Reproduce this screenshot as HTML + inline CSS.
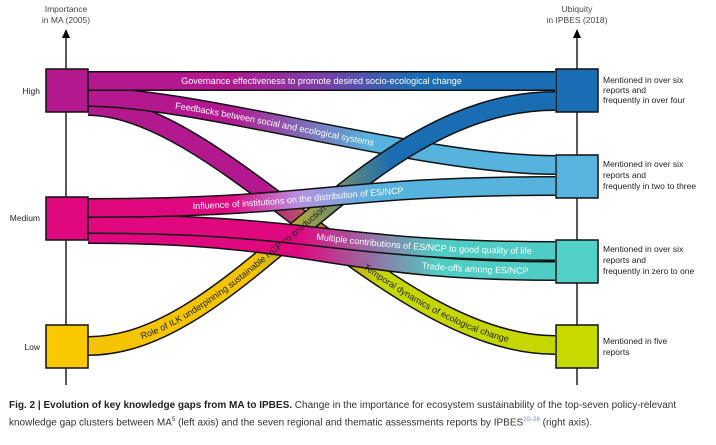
<!DOCTYPE html>
<html><head><meta charset="utf-8"><style>
html,body{margin:0;padding:0;background:#fff;width:716px;height:445px;overflow:hidden}
svg{display:block}
.cap{position:absolute;left:9px;top:399px;width:700px;font:10px/14px "Liberation Sans",sans-serif;color:#333}
.cap b{color:#222}
</style></head><body>
<svg width="716" height="445" viewBox="0 0 716 445" xmlns="http://www.w3.org/2000/svg" font-family="Liberation Sans, sans-serif">
<defs>
<linearGradient id="gGov" gradientUnits="userSpaceOnUse" x1="88" y1="0" x2="555" y2="0"><stop offset="0.3" stop-color="#b3188e"/><stop offset="0.5" stop-color="#7a3fa8"/><stop offset="0.7" stop-color="#1b6db3"/></linearGradient>
<linearGradient id="gFb" gradientUnits="userSpaceOnUse" x1="88" y1="0" x2="555" y2="0"><stop offset="0.3" stop-color="#b3188e"/><stop offset="0.6" stop-color="#55b3dd"/></linearGradient>
<linearGradient id="gTe" gradientUnits="userSpaceOnUse" x1="88" y1="0" x2="555" y2="0"><stop offset="0.38" stop-color="#b3188e"/><stop offset="0.62" stop-color="#c5d600"/></linearGradient>
<linearGradient id="gIn" gradientUnits="userSpaceOnUse" x1="88" y1="0" x2="555" y2="0"><stop offset="0.3" stop-color="#e0087f"/><stop offset="0.45" stop-color="#b890e0"/><stop offset="0.62" stop-color="#55b3dd"/></linearGradient>
<linearGradient id="gMu" gradientUnits="userSpaceOnUse" x1="88" y1="0" x2="555" y2="0"><stop offset="0.45" stop-color="#e0087f"/><stop offset="0.75" stop-color="#4fcdc4"/></linearGradient>
<linearGradient id="gIl" gradientUnits="userSpaceOnUse" x1="88" y1="0" x2="555" y2="0"><stop offset="0.35" stop-color="#f4c400"/><stop offset="0.65" stop-color="#1b6db3"/></linearGradient>
<path id="pGov" d="M88,81 L555,81"/>
<path id="pFb" d="M88,97 C200,97 420,165 555,165"/>
<path id="pTe" d="M88,106 C220,106 390,345 555,345"/>
<path id="pIl" d="M88,346 C240,346 360,101 555,101"/>
<path id="pIn" d="M88,208 C320,208 330,186 555,186"/>
<path id="pMu" d="M88,224 C320,224 330,251 555,251"/>
<path id="pTr" d="M88,234 C320,234 330,271 555,271"/>
</defs>
<g stroke="#000" stroke-width="1.3">
<line x1="66" y1="36" x2="66" y2="385"/><line x1="577" y1="36" x2="577" y2="385"/></g>
<polygon points="66,29 62,38 70,38" fill="#000"/><polygon points="577,29 573,38 581,38" fill="#000"/>
<g font-size="8.5" fill="#444" text-anchor="middle">
<text x="66" y="12">Importance</text><text x="66" y="23">in MA (2005)</text>
<text x="577" y="12">Ubiquity</text><text x="577" y="23">in IPBES (2018)</text></g>
<use href="#pTe" fill="none" stroke="#111" stroke-width="20"/><use href="#pTe" fill="none" stroke="url(#gTe)" stroke-width="17"/>
<use href="#pFb" fill="none" stroke="#111" stroke-width="20"/><use href="#pFb" fill="none" stroke="url(#gFb)" stroke-width="17"/>
<use href="#pIl" fill="none" stroke="#111" stroke-width="20"/><use href="#pIl" fill="none" stroke="url(#gIl)" stroke-width="17"/>
<use href="#pGov" fill="none" stroke="#111" stroke-width="20"/><use href="#pGov" fill="none" stroke="url(#gGov)" stroke-width="17"/>
<use href="#pTr" fill="none" stroke="#111" stroke-width="20"/><use href="#pTr" fill="none" stroke="url(#gMu)" stroke-width="17"/>
<use href="#pMu" fill="none" stroke="#111" stroke-width="20"/><use href="#pMu" fill="none" stroke="url(#gMu)" stroke-width="17"/>
<use href="#pIn" fill="none" stroke="#111" stroke-width="20"/><use href="#pIn" fill="none" stroke="url(#gIn)" stroke-width="17"/>
<g font-size="9" fill="#fff" dominant-baseline="central" text-anchor="middle">
<text><textPath href="#pGov" startOffset="50%">Governance effectiveness to promote desired socio-ecological change</textPath></text>
<text><textPath href="#pFb" startOffset="40%">Feedbacks between social and ecological systems</textPath></text>
<text><textPath href="#pIn" startOffset="45%">Influence of institutions on the distribution of ES/NCP</textPath></text>
<text><textPath href="#pMu" startOffset="72%">Multiple contributions of ES/NCP to good quality of life</textPath></text>
<text><textPath href="#pTr" startOffset="83%">Trade-offs among ES/NCP</textPath></text>
</g>
<g font-size="9" fill="#222" dominant-baseline="central" text-anchor="middle">
<text><textPath href="#pTe" startOffset="76%">Temporal dynamics of ecological change</textPath></text>
<text><textPath href="#pIl" startOffset="31%">Role of ILK underpinning sustainable NCP co-production</textPath></text>
</g>
<g stroke="#111" stroke-width="1.5">
<rect x="46" y="69" width="42" height="43" fill="#b3188e"/>
<rect x="46" y="197" width="42" height="43" fill="#e0087f"/>
<rect x="46" y="325" width="42" height="43" fill="#f9c800"/>
<rect x="556" y="69" width="42" height="43" fill="#1b6db3"/>
<rect x="556" y="155" width="42" height="43" fill="#56b4de"/>
<rect x="556" y="240" width="42" height="43" fill="#52cfc6"/>
<rect x="556" y="325" width="42" height="43" fill="#c8d900"/>
</g>
<g font-size="8.5" fill="#222" text-anchor="end" dominant-baseline="central">
<text x="40" y="91">High</text><text x="40" y="218">Medium</text><text x="40" y="347">Low</text></g>
<g font-size="8.5" fill="#222" dominant-baseline="central">
<text x="603" y="80">Mentioned in over six</text><text x="603" y="90">reports and</text><text x="603" y="100">frequently in over four</text>
<text x="603" y="164">Mentioned in over six</text><text x="603" y="175">reports and</text><text x="603" y="186">frequently in two to three</text>
<text x="603" y="249">Mentioned in over six</text><text x="603" y="260">reports and</text><text x="603" y="271">frequently in zero to one</text>
<text x="603" y="341">Mentioned in five</text><text x="603" y="352">reports</text>
</g>
</svg>
<div class="cap"><b>Fig. 2 | Evolution of key knowledge gaps from MA to IPBES.</b> Change in the importance for ecosystem sustainability of the top-seven policy-relevant knowledge gap clusters between MA<sup style="font-size:6px">5</sup> (left axis) and the seven regional and thematic assessments reports by IPBES<sup style="font-size:6px;color:#5a8fd0">20–26</sup> (right axis).</div>
</body></html>
